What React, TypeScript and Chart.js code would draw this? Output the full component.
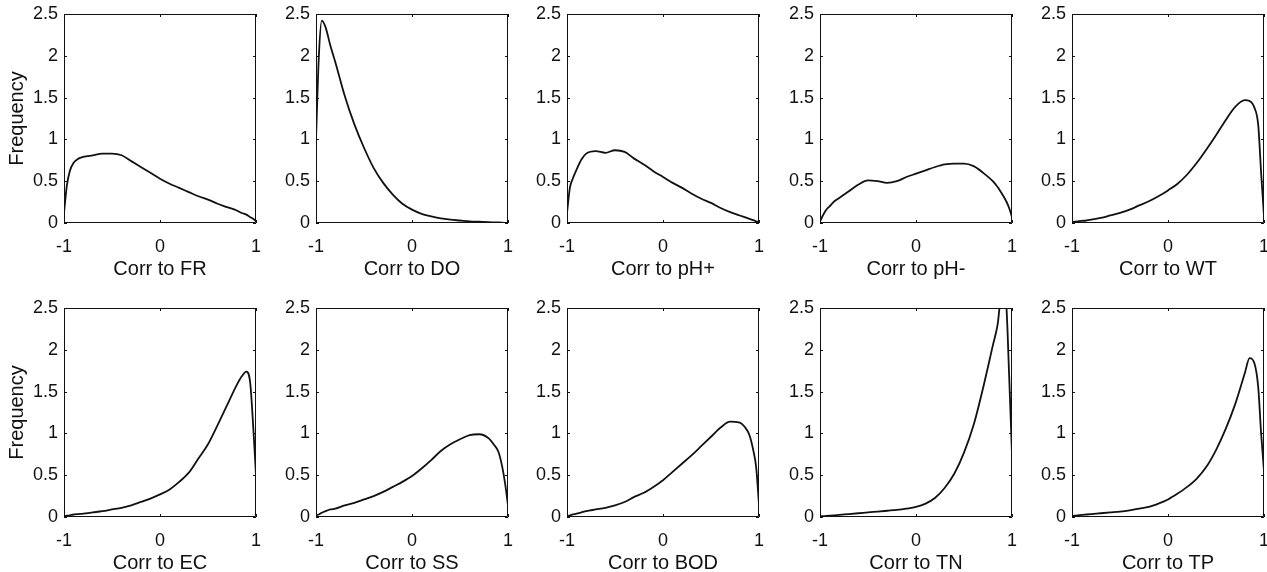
import React, { useEffect, useRef } from "react";
import { Chart, registerables } from "chart.js";

Chart.register(...registerables);
Chart.defaults.font.family = '"Liberation Sans", Arial, Helvetica, sans-serif';
Chart.defaults.color = "#111";

// shared x grid (correlation values)
const xGrid = [
  -1, -0.97, -0.94, -0.9, -0.85, -0.8, -0.7, -0.6, -0.5, -0.4, -0.3, -0.2, -0.1, 0,
  0.1, 0.2, 0.3, 0.4, 0.5, 0.6, 0.7, 0.8, 0.85, 0.9, 0.94, 0.97, 1,
];

const freqFR = [0.12, 0.45, 0.62, 0.72, 0.77, 0.79, 0.81, 0.83, 0.83, 0.81, 0.74, 0.67, 0.6, 0.53, 0.47, 0.42, 0.37, 0.32, 0.28, 0.23, 0.19, 0.15, 0.12, 0.1, 0.07, 0.05, 0.02];
const freqDO = [1.0, 2.0, 2.42, 2.34, 2.12, 1.93, 1.52, 1.18, 0.9, 0.66, 0.48, 0.34, 0.23, 0.16, 0.11, 0.08, 0.055, 0.04, 0.03, 0.02, 0.015, 0.01, 0.008, 0.006, 0.004, 0.002, 0.0];
const freqPHp = [0.12, 0.42, 0.53, 0.64, 0.76, 0.83, 0.86, 0.84, 0.87, 0.85, 0.77, 0.7, 0.62, 0.55, 0.48, 0.42, 0.35, 0.29, 0.24, 0.18, 0.13, 0.09, 0.07, 0.05, 0.035, 0.02, 0.01];
const freqPHm = [0.02, 0.09, 0.15, 0.2, 0.26, 0.3, 0.38, 0.46, 0.51, 0.5, 0.48, 0.5, 0.55, 0.59, 0.63, 0.67, 0.7, 0.71, 0.71, 0.68, 0.6, 0.5, 0.43, 0.34, 0.26, 0.18, 0.07];
const freqWT = [0.01, 0.015, 0.02, 0.025, 0.03, 0.04, 0.06, 0.09, 0.12, 0.16, 0.21, 0.26, 0.32, 0.39, 0.47, 0.58, 0.72, 0.88, 1.05, 1.23, 1.39, 1.47, 1.46, 1.38, 1.17, 0.6, 0.08];
const freqEC = [0.01, 0.015, 0.02, 0.03, 0.035, 0.04, 0.055, 0.07, 0.09, 0.11, 0.14, 0.18, 0.22, 0.27, 0.33, 0.42, 0.53, 0.7, 0.87, 1.1, 1.34, 1.58, 1.68, 1.74, 1.6, 1.1, 0.5];
const freqSS = [0.02, 0.03, 0.05, 0.07, 0.09, 0.1, 0.14, 0.17, 0.21, 0.25, 0.3, 0.36, 0.42, 0.49, 0.58, 0.68, 0.79, 0.87, 0.93, 0.98, 0.99, 0.94, 0.87, 0.78, 0.6, 0.4, 0.14];
const freqBOD = [0.01, 0.02, 0.03, 0.04, 0.055, 0.07, 0.09, 0.11, 0.14, 0.18, 0.24, 0.29, 0.36, 0.44, 0.54, 0.64, 0.74, 0.85, 0.96, 1.07, 1.14, 1.13, 1.08, 0.98, 0.8, 0.6, 0.15];
const freqTN = [0.01, 0.01, 0.012, 0.015, 0.02, 0.025, 0.035, 0.045, 0.055, 0.065, 0.075, 0.085, 0.1, 0.12, 0.16, 0.23, 0.35, 0.52, 0.77, 1.1, 1.55, 2.05, 2.3, 2.75, 2.55, 1.7, 0.75];
const freqTP = [0.01, 0.015, 0.02, 0.025, 0.03, 0.035, 0.045, 0.055, 0.065, 0.08, 0.1, 0.12, 0.16, 0.21, 0.28, 0.36, 0.46, 0.6, 0.8, 1.05, 1.35, 1.72, 1.9, 1.84, 1.55, 1.0, 0.55];

const panelTitles = [
  "Corr to FR", "Corr to DO", "Corr to pH+", "Corr to pH-", "Corr to WT",
  "Corr to EC", "Corr to SS", "Corr to BOD", "Corr to TN", "Corr to TP",
];
const panelValues = [freqFR, freqDO, freqPHp, freqPHm, freqWT, freqEC, freqSS, freqBOD, freqTN, freqTP];

const xTicks = [-1, 0, 1];
const yTicks = [0, 0.5, 1, 1.5, 2, 2.5];
const yTitle = "Frequency";

// layout (pixels)
const colLefts = [64, 316, 567, 820, 1072];
const rowTops = [14, 308];
const plotW = 192;
const plotH = 209;
const yAxisW = 64;
const xAxisH = 60;
const padTop = 14;
const padRight = 10;
const tickPad = 13;
const titlePad = 2;

const boxPlugin = {
  id: "matlabBox",
  afterDatasetsDraw(chart: any) {
    const { ctx, chartArea: a, scales } = chart;
    ctx.save();
    ctx.strokeStyle = "#111";
    ctx.lineWidth = 1;
    ctx.beginPath();
    ctx.rect(a.left + 0.5, a.top + 0.5, a.right - a.left - 1, a.bottom - a.top - 1);
    const len = 3;
    for (const v of xTicks) {
      const px = Math.round(scales.x.getPixelForValue(v)) + 0.5;
      ctx.moveTo(px, a.bottom);
      ctx.lineTo(px, a.bottom - len);
      ctx.moveTo(px, a.top);
      ctx.lineTo(px, a.top + len);
    }
    for (const v of yTicks) {
      const py = Math.round(scales.y.getPixelForValue(v)) + 0.5;
      ctx.moveTo(a.left, py);
      ctx.lineTo(a.left + len, py);
      ctx.moveTo(a.right, py);
      ctx.lineTo(a.right - len, py);
    }
    ctx.stroke();
    ctx.restore();
  },
};

function Panel(props: { idx: number }) {
  const ref = useRef<HTMLCanvasElement | null>(null);
  const idx = props.idx;
  const row = Math.floor(idx / 5);
  const col = idx % 5;
  const cw = yAxisW + plotW + padRight;
  const ch = padTop + plotH + xAxisH;

  useEffect(() => {
    if (!ref.current) return;
    const values = panelValues[idx];
    const data = xGrid.map((x, i) => ({ x, y: values[i] }));
    const chart = new Chart(ref.current, {
      type: "line",
      data: {
        datasets: [
          {
            data,
            borderColor: "#111",
            borderWidth: 1.8,
            pointRadius: 0,
            cubicInterpolationMode: "monotone",
            fill: false,
          },
        ],
      },
      options: {
        animation: false,
        responsive: false,
        devicePixelRatio: 1,
        events: [],
        layout: { padding: { top: padTop, right: padRight, left: 0, bottom: 0 } },
        plugins: { legend: { display: false }, tooltip: { enabled: false } },
        scales: {
          x: {
            type: "linear",
            min: -1,
            max: 1,
            grid: { display: false, drawTicks: false },
            border: { display: false },
            afterBuildTicks: (s: any) => {
              s.ticks = xTicks.map((v) => ({ value: v }));
            },
            afterFit: (s: any) => {
              s.height = xAxisH;
              s.paddingLeft = 0;
              s.paddingRight = 0;
            },
            ticks: {
              font: { size: 18 },
              color: "#111",
              padding: tickPad,
              maxRotation: 0,
              callback: (v: any) => String(v),
            },
            title: {
              display: true,
              text: panelTitles[idx],
              font: { size: 20 },
              color: "#111",
              padding: { top: 0, bottom: titlePad },
            },
          },
          y: {
            type: "linear",
            min: 0,
            max: 2.5,
            grid: { display: false, drawTicks: false },
            border: { display: false },
            afterBuildTicks: (s: any) => {
              s.ticks = yTicks.map((v) => ({ value: v }));
            },
            afterFit: (s: any) => {
              s.width = yAxisW;
              s.paddingTop = 0;
              s.paddingBottom = 0;
            },
            ticks: {
              font: { size: 18 },
              color: "#111",
              padding: 6,
              callback: (v: any) => String(v),
            },
            title: {
              display: col === 0,
              text: yTitle,
              font: { size: 20 },
              color: "#111",
              padding: { top: 5, bottom: 0 },
            },
          },
        },
      },
      plugins: [boxPlugin],
    } as any);
    return () => chart.destroy();
  }, [idx]);

  return (
    <canvas
      ref={ref}
      width={cw}
      height={ch}
      style={{
        position: "absolute",
        left: colLefts[col] - yAxisW,
        top: rowTops[row] - padTop,
        width: cw,
        height: ch,
      }}
    />
  );
}

export default function App() {
  return (
    <div
      style={{
        position: "fixed",
        left: 0,
        top: 0,
        width: 1267,
        height: 572,
        overflow: "hidden",
        background: "#fff",
      }}
    >
      {panelTitles.map((_, i) => (
        <Panel key={i} idx={i} />
      ))}
    </div>
  );
}
